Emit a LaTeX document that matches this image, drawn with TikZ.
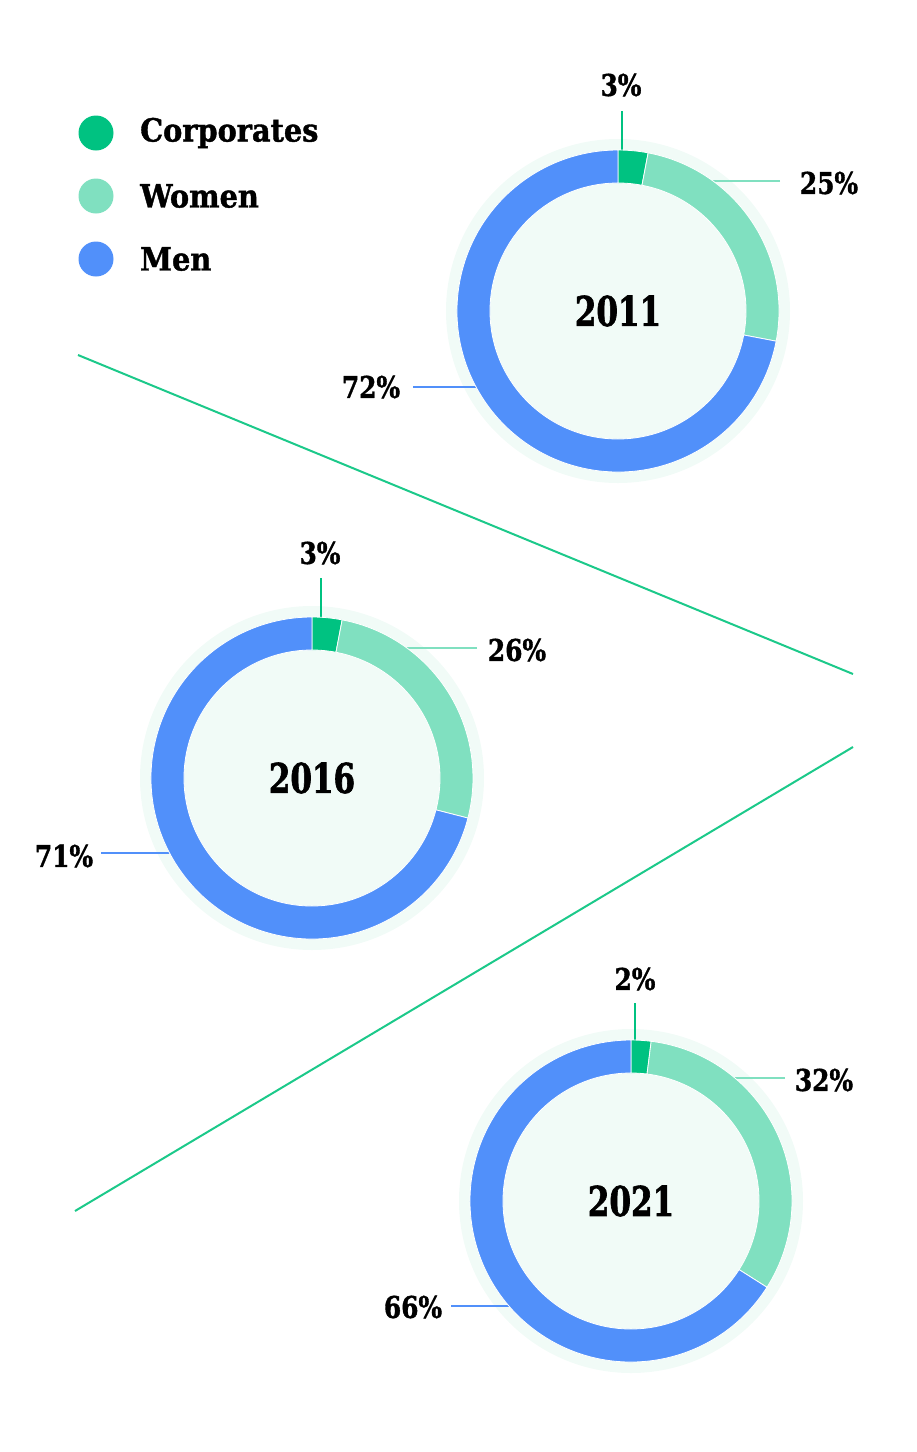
\documentclass[tikz,border=0pt]{standalone}
\usepackage{fontspec}
\setmainfont{DejaVu Serif Condensed}[FakeBold=1.2]
\newfontfamily\yearfont{DejaVu Serif Condensed}[FakeStretch=0.84, FakeBold=1.5]
\newfontfamily\pctfont{DejaVu Serif Condensed}[FakeStretch=0.92, FakeBold=1.2]
\usetikzlibrary{calc}
\definecolor{corp}{HTML}{00C281}
\definecolor{wom}{HTML}{80E0C0}
\definecolor{men}{HTML}{5190FA}
\definecolor{pale}{HTML}{F1FBF7}
\definecolor{diag}{HTML}{1CC98A}
\newcommand{\donutseg}[4]{%
  \fill[#4, draw=white, line width=0.8pt]
    ($(#1)+(#2:161pt)$) arc[start angle=#2, end angle=#3, radius=161pt]
    -- ($(#1)+(#3:128pt)$) arc[start angle=#3, end angle=#2, radius=128pt] -- cycle;}
\begin{document}
\begin{tikzpicture}[x=1pt,y=1pt,
  pct/.style={font=\pctfont\fontsize{30}{32}\selectfont\bfseries, inner sep=0pt},
  yearlbl/.style={font=\yearfont\fontsize{41}{44}\selectfont\bfseries, inner sep=0pt},
  legtext/.style={font=\fontsize{32}{36}\selectfont\bfseries, inner sep=0pt, anchor=west},
  legdot/.style={circle, inner sep=0pt, minimum size=35pt},
  lead/.style={line width=2.2pt},
  diagline/.style={diag, line width=2pt},
  halo/.style={fill=pale},
]
\useasboundingbox (0,0) rectangle (917,-1452);

% legend
\node[legdot, fill=corp] (d1) at (96,-133) {};
\node[legdot, fill=wom] (d2) at (96,-196) {};
\node[legdot, fill=men] (d3) at (96,-259) {};
\node[legtext] (l1) at (140,-133) {Corporates};
\node[legtext] (l2) at (140,-196) {Women};
\node[legtext] (l3) at (140,-259) {Men};

% diagonal lines
\coordinate (g1) at (78,-355);
\coordinate (g2) at (853,-674);
\coordinate (g3) at (853,-747);
\coordinate (g4) at (75,-1211);
\draw[diagline] (g1) -- (g2);
\draw[diagline] (g3) -- (g4);

% ---- 2011
\coordinate (c1) at (618,-311);
\fill[halo] (c1) circle (172pt);
\coordinate (a1s) at (622,-111); \coordinate (a1e) at (622,-160);
\coordinate (b1s) at (780,-181); \coordinate (b1e) at (705,-181);
\coordinate (m1s) at (413,-387); \coordinate (m1e) at (485,-387);
\draw[lead, corp] (a1s) -- (a1e);
\draw[lead, wom] (b1s) -- (b1e);
\draw[lead, men] (m1s) -- (m1e);
\donutseg{c1}{90}{79.2}{corp}
\donutseg{c1}{79.2}{-10.8}{wom}
\donutseg{c1}{-10.8}{-270}{men}
\node[yearlbl] (y1) at (c1) {2011};
\node[pct] (p1a) at (621,-85) {3\%};
\node[pct] (p1b) at (829,-183) {25\%};
\node[pct] (p1c) at (371,-387) {72\%};

% ---- 2016
\coordinate (c2) at (312,-778);
\fill[halo] (c2) circle (172pt);
\coordinate (a2s) at (321,-578); \coordinate (a2e) at (321,-627);
\coordinate (b2s) at (477,-648); \coordinate (b2e) at (395,-648);
\coordinate (m2s) at (101,-853); \coordinate (m2e) at (180,-853);
\draw[lead, corp] (a2s) -- (a2e);
\draw[lead, wom] (b2s) -- (b2e);
\draw[lead, men] (m2s) -- (m2e);
\donutseg{c2}{90}{79.2}{corp}
\donutseg{c2}{79.2}{-14.4}{wom}
\donutseg{c2}{-14.4}{-270}{men}
\node[yearlbl] (y2) at (c2) {2016};
\node[pct] (p2a) at (320,-553) {3\%};
\node[pct] (p2b) at (517,-650) {26\%};
\node[pct] (p2c) at (64,-856) {71\%};

% ---- 2021
\coordinate (c3) at (631,-1201);
\fill[halo] (c3) circle (172pt);
\coordinate (a3s) at (635,-1003); \coordinate (a3e) at (635,-1050);
\coordinate (b3s) at (785,-1078); \coordinate (b3e) at (720,-1078);
\coordinate (m3s) at (451,-1306); \coordinate (m3e) at (520,-1306);
\draw[lead, corp] (a3s) -- (a3e);
\draw[lead, wom] (b3s) -- (b3e);
\draw[lead, men] (m3s) -- (m3e);
\donutseg{c3}{90}{82.8}{corp}
\donutseg{c3}{82.8}{-32.4}{wom}
\donutseg{c3}{-32.4}{-270}{men}
\node[yearlbl] (y3) at (c3) {2021};
\node[pct] (p3a) at (635,-979) {2\%};
\node[pct] (p3b) at (824,-1080) {32\%};
\node[pct] (p3c) at (413,-1307) {66\%};
\end{tikzpicture}
\end{document}
